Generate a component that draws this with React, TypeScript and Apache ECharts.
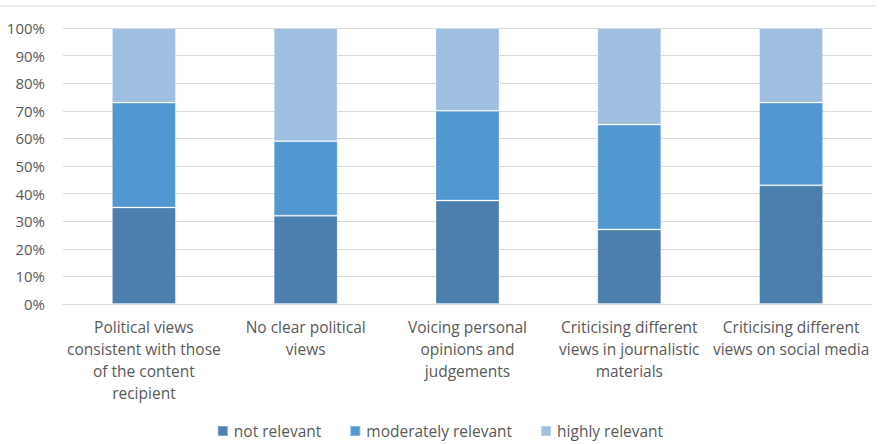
import React, { useEffect, useRef } from "react";
import * as echarts from "echarts";

// Share of responses per category (percent of 100)
const categories = [
  "Political views\nconsistent with those\nof the content\nrecipient",
  "No clear political\nviews",
  "Voicing personal\nopinions and\njudgements",
  "Criticising different\nviews in journalistic\nmaterials",
  "Criticising different\nviews on social media",
];
const notRelevant = [35, 32, 37.5, 27, 43];
const moderatelyRelevant = [38, 27, 32.5, 38, 30];
const highlyRelevant = [27, 41, 30, 35, 27];
const seriesNames = ["not relevant", "moderately relevant", "highly relevant"];
const colors = ["#4a7fae", "#5198d3", "#9fbfe0"];

const FONT = "'Open Sans', 'Noto Sans', sans-serif";
const TEXT = "#595959";
const GRID = "#d9d9d9";

export default function App() {
  const ref = useRef<HTMLDivElement>(null);

  useEffect(() => {
    document.body.style.margin = "0";
    if (!ref.current) return;
    const chart = echarts.init(ref.current, undefined, { renderer: "svg" });
    const values = [notRelevant, moderatelyRelevant, highlyRelevant];
    chart.setOption({
      animation: false,
      color: colors,
      textStyle: { fontFamily: FONT },
      grid: { left: 63, right: 8, top: 28, bottom: 140 },
      graphic: [
        {
          type: "line",
          shape: { x1: 0, y1: 6, x2: 876, y2: 6 },
          style: { stroke: GRID, lineWidth: 1 },
          silent: true,
        },
      ],
      legend: {
        bottom: 0,
        left: "center",
        itemWidth: 10,
        itemHeight: 10,
        itemGap: 28,
        icon: "rect",
        textStyle: { color: TEXT, fontSize: 15.5, fontFamily: FONT, padding: [0, 0, 0, 1] },
        data: seriesNames,
      },
      xAxis: {
        type: "category",
        data: categories,
        axisLine: { show: true, lineStyle: { color: GRID, width: 1 } },
        axisTick: { show: false },
        axisLabel: {
          interval: 0,
          color: TEXT,
          fontSize: 15.5,
          fontFamily: FONT,
          lineHeight: 22,
          margin: 12,
          align: "center",
        },
      },
      yAxis: {
        type: "value",
        min: 0,
        max: 100,
        interval: 10,
        axisLine: { show: false },
        axisTick: { show: false },
        splitLine: { lineStyle: { color: GRID, width: 1 } },
        axisLabel: {
          color: TEXT,
          fontSize: 15,
          fontFamily: FONT,
          margin: 18,
          formatter: (v: number) => `${v}%`,
        },
      },
      series: seriesNames.map((name, i) => ({
        name,
        type: "bar",
        stack: "total",
        barWidth: 64,
        data: values[i],
        itemStyle: { color: colors[i], borderColor: "rgba(255,255,255,0.3)", borderWidth: 1 },
      })),
    });
    return () => chart.dispose();
  }, []);

  return <div ref={ref} style={{ width: 880, height: 444 }} />;
}
